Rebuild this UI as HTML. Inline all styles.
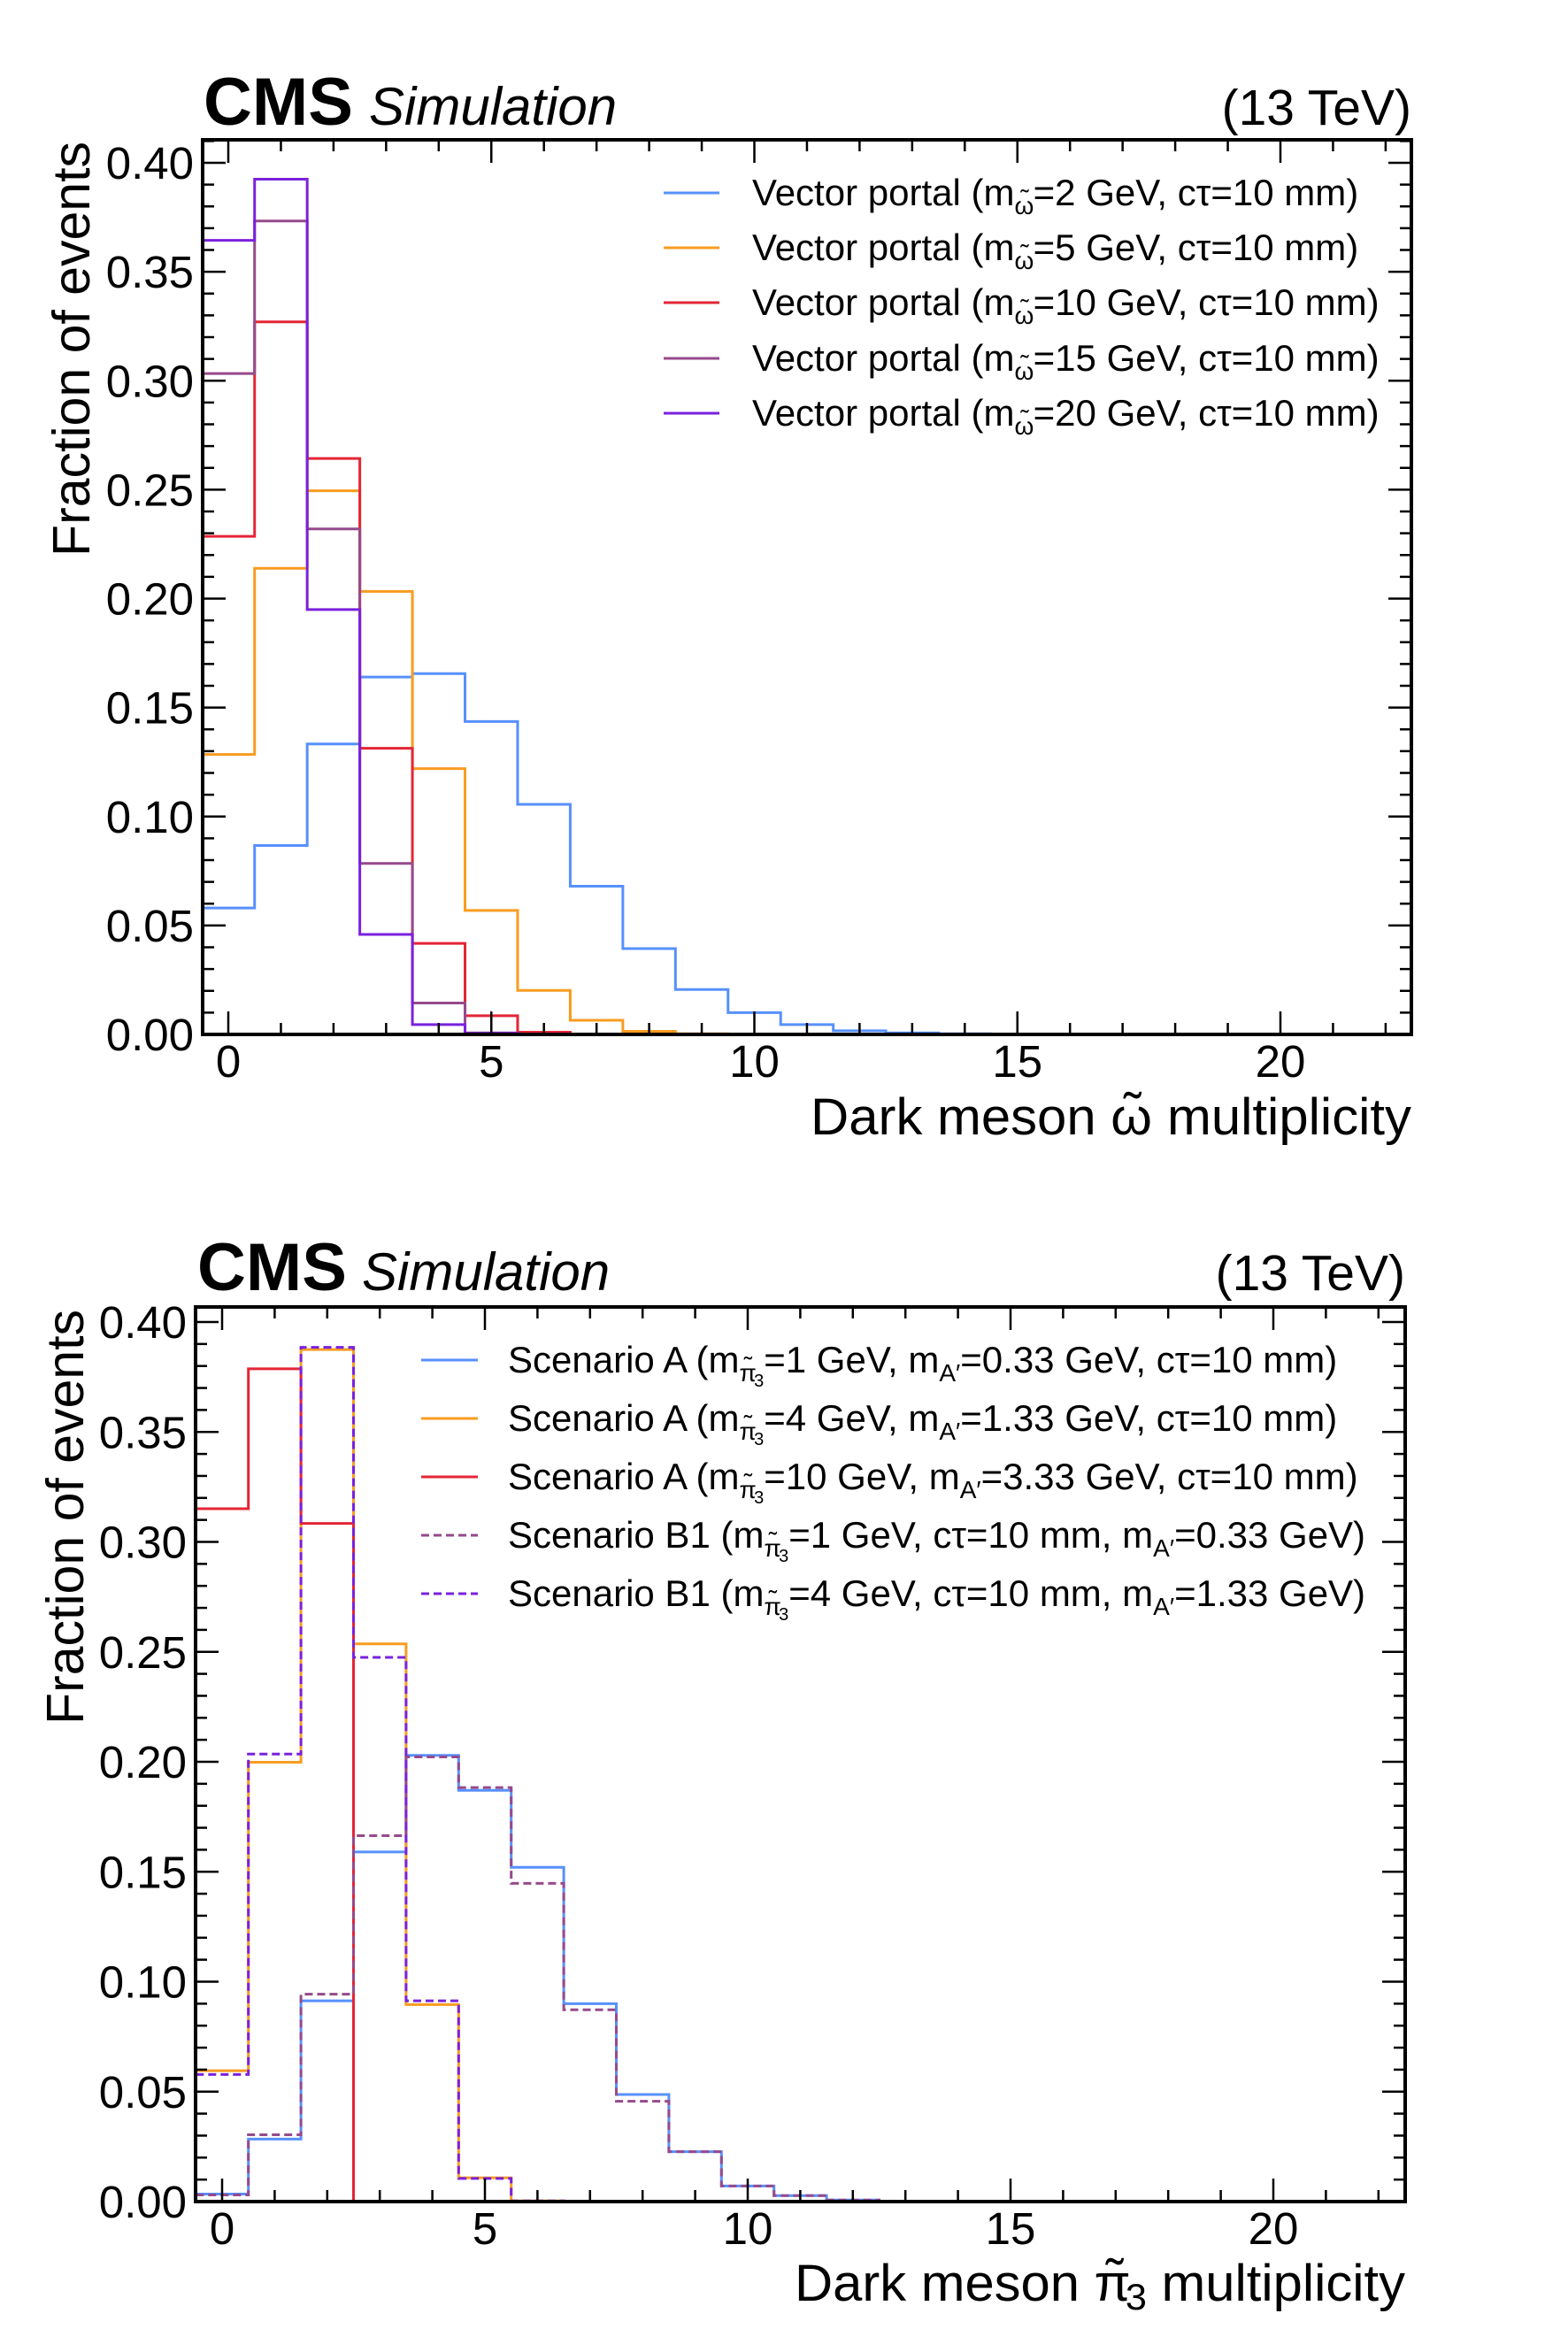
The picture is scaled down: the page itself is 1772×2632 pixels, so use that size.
<!DOCTYPE html>
<html><head><meta charset="utf-8"><style>
html,body{margin:0;padding:0;background:#fff;}
svg{display:block;}
text{font-family:"Liberation Sans",Arial,sans-serif;fill:#000;}
</style></head><body>
<svg id="fig" width="1772" height="2632" viewBox="0 0 1772 2632" xmlns="http://www.w3.org/2000/svg">
<g id="p1"></g>
<g id="p2"></g>
</svg>
<script>
// ---- data: top panel (bins 0..22) ----
const topVP2  = [0.058,0.0867,0.1333,0.164,0.1656,0.1436,0.1056,0.068,0.0394,0.0206,0.010,0.0045,0.0017,0.0007,0.0003,0,0,0,0,0,0,0,0];
const topVP5  = [0.1285,0.2139,0.2495,0.2033,0.122,0.0569,0.0202,0.0065,0.0014,0.0003,0,0,0,0,0,0,0,0,0,0,0,0,0];
const topVP10 = [0.2286,0.327,0.2643,0.1313,0.0418,0.0086,0.001,0,0,0,0,0,0,0,0,0,0,0,0,0,0,0,0];
const topVP15 = [0.3033,0.3733,0.232,0.0785,0.0144,0.0007,0,0,0,0,0,0,0,0,0,0,0,0,0,0,0,0,0];
const topVP20 = [0.3644,0.3925,0.195,0.0459,0.0045,0.0005,0,0,0,0,0,0,0,0,0,0,0,0,0,0,0,0,0];
// ---- data: bottom panel ----
const botA1  = [0.0034,0.0284,0.0913,0.159,0.2029,0.187,0.152,0.090,0.0487,0.0227,0.0071,0.0027,0.0007,0.0002,0,0,0,0,0,0,0,0,0];
const botA4  = [0.0595,0.1998,0.3875,0.2536,0.0896,0.0108,0.0003,0,0,0,0,0,0,0,0,0,0,0,0,0,0,0,0];
const botA10 = [0.3151,0.3787,0.3084,0,0,0,0,0,0,0,0,0,0,0,0,0,0,0,0,0,0,0,0];
const botB1a = [0.003,0.0304,0.0943,0.1664,0.2022,0.1883,0.1447,0.0872,0.0456,0.0227,0.0071,0.0027,0.0007,0.0002,0,0,0,0,0,0,0,0,0];
const botB1b = [0.0578,0.2035,0.3885,0.2475,0.0913,0.0105,0.0003,0,0,0,0,0,0,0,0,0,0,0,0,0,0,0,0];
const xTickLabels = ["0","5","10","15","20"];
const yTickLabels = ["0.00","0.05","0.10","0.15","0.20","0.25","0.30","0.35","0.40"];
const topLegend = ["2","5","10","15","20"];
const botLegendA = [["1","0.33"],["4","1.33"],["10","3.33"]];
const botLegendB = [["1","0.33"],["4","1.33"]];

const NS="http://www.w3.org/2000/svg";
function mk(tag,attrs,parent){const e=document.createElementNS(NS,tag);for(const k in attrs)e.setAttribute(k,attrs[k]);parent.appendChild(e);return e;}
const C={blue:"#5790fc",orange:"#f89c20",red:"#e42536",mauve:"#964a8b",purple:"#7a21dd"};

function panel(g,cfg){
  const X=v=>cfg.x0+v*cfg.xu;
  const Y=v=>cfg.y0-v*cfg.yk;
  const L=cfg.left,R=cfg.right,T=cfg.top,B=cfg.y0;
  cfg.series.forEach(s=>{
    let d="M"+X(-0.5)+","+Y(s.vals[0]);
    for(let i=0;i<s.vals.length;i++){
      d+=" H"+X(i+0.5);
      d+=" V"+Y(i+1<s.vals.length?s.vals[i+1]:0);
    }
    const p=mk("path",{d:d,fill:"none",stroke:s.color,"stroke-width":3,"stroke-dasharray":s.dash?"9,5":"none"},g);
    
    
  });
  const tg=mk("g",{stroke:"#000","stroke-width":2.5},g);
  
  
  for(let i=0;i<=22;i++){
    const len=(i%5===0)?26:13;
    mk("line",{x1:X(i),x2:X(i),y1:B,y2:B-len},tg);
    mk("line",{x1:X(i),x2:X(i),y1:T,y2:T+len},tg);
  }
  for(let j=0;j<=41;j++){
    const v=j*0.01; const y=Y(v); if(y<T) continue;
    const len=(j%5===0)?26:13;
    mk("line",{x1:L,x2:L+len,y1:y,y2:y},tg);
    mk("line",{x1:R,x2:R-len,y1:y,y2:y},tg);
  }
  const fr=mk("rect",{x:L,y:T,width:R-L,height:B-T,fill:"none",stroke:"#000","stroke-width":4},g);
  
  
  xTickLabels.forEach((t,i)=>{
    const e=mk("text",{x:X(i*5),y:B+48,"font-size":51,"text-anchor":"middle"},g);e.textContent=t;
    
    
  });
  yTickLabels.forEach((t,i)=>{
    const e=mk("text",{x:L-10,y:Y(i*0.05)+18,"font-size":51,"text-anchor":"end"},g);e.textContent=t;
    
    
  });
}

const g1=document.getElementById("p1");
panel(g1,{x0:258,xu:59.45,y0:1169,yk:2462.5,left:229,right:1595,top:158,series:[
  {vals:topVP2,color:C.blue,name:"hist-vp-2gev"},
  {vals:topVP5,color:C.orange,name:"hist-vp-5gev"},
  {vals:topVP10,color:C.red,name:"hist-vp-10gev"},
  {vals:topVP15,color:C.mauve,name:"hist-vp-15gev"},
  {vals:topVP20,color:C.purple,name:"hist-vp-20gev"}]});
const g2=document.getElementById("p2");
panel(g2,{x0:251,xu:59.4,y0:2488,yk:2485,left:221,right:1588,top:1477,series:[
  {vals:botA1,color:C.blue,name:"hist-a-1gev"},
  {vals:botA4,color:C.orange,name:"hist-a-4gev"},
  {vals:botA10,color:C.red,name:"hist-a-10gev"},
  {vals:botB1a,color:C.mauve,dash:true,name:"hist-b1-1gev"},
  {vals:botB1b,color:C.purple,dash:true,name:"hist-b1-4gev"}]});

const omegaSub='<tspan font-size="28" dy="10">ω</tspan><tspan font-size="28" dx="-15" dy="-8">˜</tspan><tspan dx="5" dy="-2">';
const piSub='<tspan font-size="28" dy="10">π</tspan><tspan font-size="28" dx="-14" dy="-8">˜</tspan><tspan font-size="20" dx="2" dy="14">3</tspan><tspan dy="-16">';
const aSub='<tspan font-size="28" dy="10">A′</tspan><tspan dy="-10">';

const topCols=[C.blue,C.orange,C.red,C.mauve,C.purple];
const topYs=[218,280,342,405,467];
topLegend.forEach((m,i)=>{
  const lg=mk("g",{},g1);
  
  
  mk("line",{x1:750,x2:813,y1:topYs[i],y2:topYs[i],stroke:topCols[i],"stroke-width":3},lg);
  const t=mk("text",{x:850,y:topYs[i]+14,"font-size":42},lg);
  t.innerHTML='Vector portal (m'+omegaSub+'=' + m + ' GeV, cτ=10 mm)</tspan>';
});
const botCols=[C.blue,C.orange,C.red,C.mauve,C.purple];
const botYs=[1537,1603,1669,1735,1801];
for(let i=0;i<5;i++){
  const lg=mk("g",{},g2);
  
  
  mk("line",{x1:476,x2:540,y1:botYs[i],y2:botYs[i],stroke:botCols[i],"stroke-width":3,"stroke-dasharray":i>=3?"9,5":"none"},lg);
  const t=mk("text",{x:574,y:botYs[i]+14,"font-size":42},lg);
  if(i<3){
    const p=botLegendA[i];
    t.innerHTML='Scenario A (m'+piSub+'='+p[0]+' GeV, </tspan>m'+aSub+'='+p[1]+' GeV, cτ=10 mm)</tspan>';
  } else {
    const p=botLegendB[i-3];
    t.innerHTML='Scenario B1 (m'+piSub+'='+p[0]+' GeV, cτ=10 mm, </tspan>m'+aSub+'='+p[1]+' GeV)</tspan>';
  }
}

function txt(g,attrs,html,name){const e=mk("text",attrs,g);e.innerHTML=html;return e;}
txt(g1,{x:230,y:141,"font-size":76,"font-weight":"bold"},"CMS","cms-label");
txt(g1,{x:417,y:141,"font-size":60,"font-style":"italic"},"Simulation","simulation-label");
txt(g1,{x:1595,y:141,"font-size":57,"text-anchor":"end"},"(13 TeV)","energy-label");
txt(g1,{x:1595,y:1282,"font-size":58,"text-anchor":"end",textLength:679,lengthAdjust:"spacingAndGlyphs"},'Dark meson ω<tspan dx="-31" dy="-6">˜</tspan><tspan dx="12" dy="6"> multiplicity</tspan>',"x-axis-title");
txt(g1,{x:0,y:0,"font-size":59,"text-anchor":"end",transform:"translate(101,160) rotate(-90)"},"Fraction of events","y-axis-title");

txt(g2,{x:223,y:1458,"font-size":76,"font-weight":"bold"},"CMS","cms-label");
txt(g2,{x:409,y:1458,"font-size":60,"font-style":"italic"},"Simulation","simulation-label");
txt(g2,{x:1588,y:1458,"font-size":57,"text-anchor":"end"},"(13 TeV)","energy-label");
txt(g2,{x:1588,y:2600,"font-size":58,"text-anchor":"end",textLength:690,lengthAdjust:"spacingAndGlyphs"},'Dark meson π<tspan dx="-27" dy="-6">˜</tspan><tspan font-size="42" dx="2" dy="16">3</tspan><tspan dy="-10"> multiplicity</tspan>',"x-axis-title");
txt(g2,{x:0,y:0,"font-size":59,"text-anchor":"end",transform:"translate(94,1480) rotate(-90)"},"Fraction of events","y-axis-title");
</script>
</body></html>
